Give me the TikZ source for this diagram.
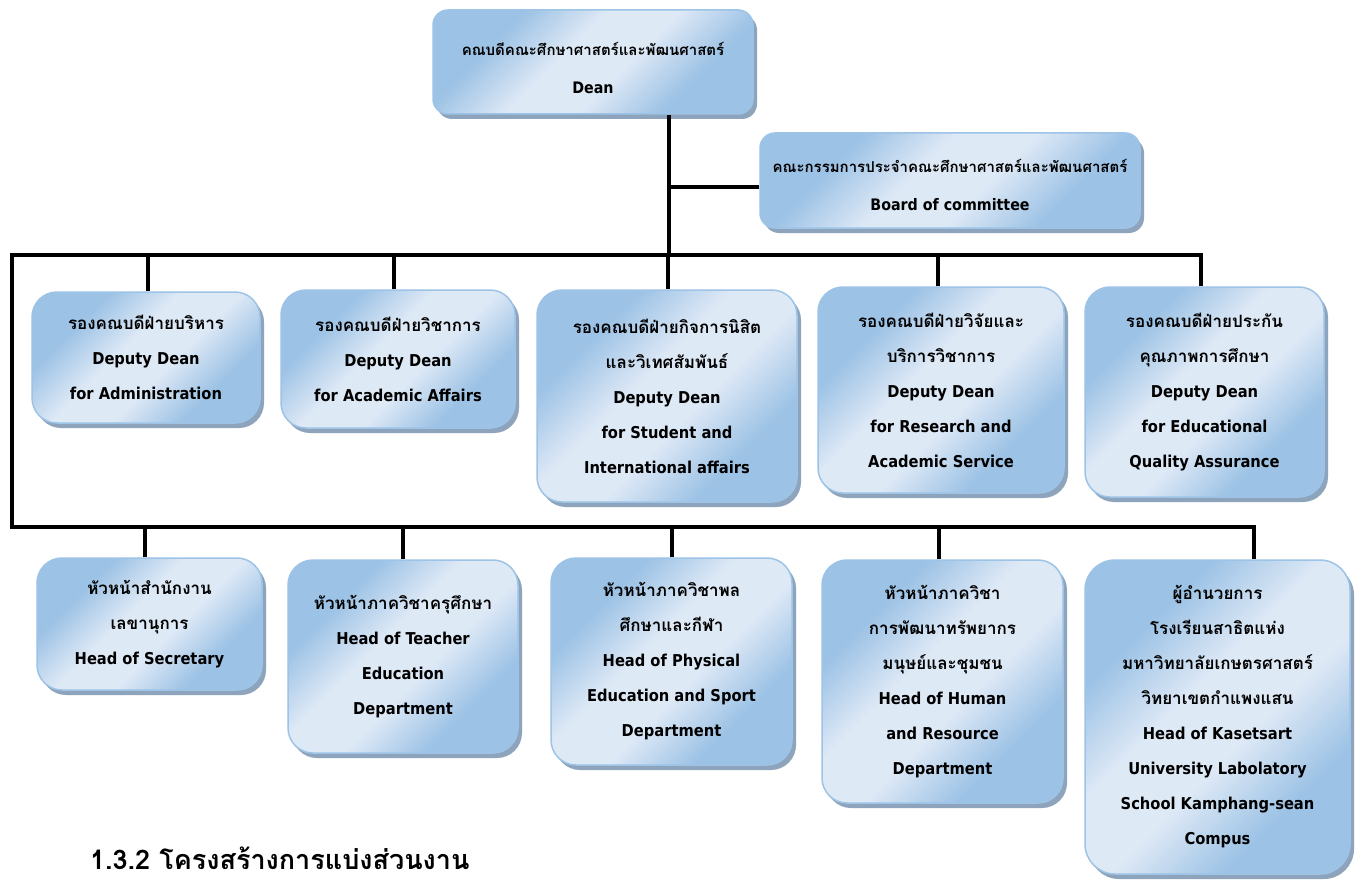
\documentclass[tikz,border=0pt]{standalone}
\usepackage{fontspec}
\setmainfont{Loma}[Script=Thai]
\newfontfamily\enf{DejaVu Sans Condensed}[Scale=0.96]
\newcommand\enbig{\enf\fontsize{16.5}{38}\selectfont}
\usetikzlibrary{shadows}
\definecolor{lightb}{HTML}{DEE9F6}
\definecolor{midb}{HTML}{9CC2E5}
\definecolor{edgeb}{HTML}{9DC3E6}
\definecolor{shadc}{HTML}{8EA4BC}
\pgfdeclarehorizontalshading{orgshade}{100bp}{color(0bp)=(midb); color(30bp)=(midb); color(44bp)=(lightb); color(56bp)=(lightb); color(70bp)=(midb); color(100bp)=(midb)}
\tikzset{
  orgbox/.style={shade, shading=orgshade, shading angle=-45, draw=edgeb, line width=1.5pt,
    rounded corners=25pt, inner sep=0pt, align=center,
    font=\bfseries\fontsize{17}{35}\selectfont,
    drop shadow={shadow xshift=4pt, shadow yshift=-5pt, fill=shadc, opacity=1}},
  topbox/.style={rounded corners=15pt, font=\bfseries\fontsize{15}{38}\selectfont},
  conn/.style={line width=4pt, draw=black, line join=miter},
}
\newcommand\orgnode[7][]{%
  \node[orgbox, #1, minimum width={(#5-#3)*1pt}, minimum height={(#6-#4)*1pt}]
    (#2) at ({(#3+#5)/2},{(#4+#6)/2}) {#7};}
\begin{document}
\begin{tikzpicture}[x=1pt, y=-1pt]
\useasboundingbox[fill=white] (0,0) rectangle (1357,880);
% top level
\orgnode[topbox]{dean}{433}{10}{753}{114}{\rule{0pt}{26pt}คณบดีคณะศึกษาศาสตร์และพัฒนศาสตร์\\\enbig Dean}
\orgnode[topbox]{board}{760}{133}{1140}{228}{\rule{0pt}{22pt}คณะกรรมการประจำคณะศึกษาศาสตร์และพัฒนศาสตร์\\\enbig Board of committee}
% row 1
\orgnode{b1}{32}{292}{260}{423}{รองคณบดีฝ่ายบริหาร\\\enf Deputy Dean\\\enf for Administration}
\orgnode{b2}{281}{290}{515}{428}{รองคณบดีฝ่ายวิชาการ\\\enf Deputy Dean\\\enf for Academic Affairs}
\orgnode{b3}{537}{290}{797}{502}{รองคณบดีฝ่ายกิจการนิสิต\\และวิเทศสัมพันธ์\\\enf Deputy Dean\\\enf for Student and\\\enf International affairs}
\orgnode{b4}{818}{287}{1064}{493}{รองคณบดีฝ่ายวิจัยและ\\บริการวิชาการ\\\enf Deputy Dean\\\enf for Research and\\\enf Academic Service}
\orgnode{b5}{1085}{287}{1324}{497}{รองคณบดีฝ่ายประกัน\\คุณภาพการศึกษา\\\enf Deputy Dean\\\enf for Educational\\\enf Quality Assurance}
% row 2
\orgnode{c1}{37}{558}{262}{690}{หัวหน้าสำนักงาน\\เลขานุการ\\\enf Head of Secretary}
\orgnode{c2}{288}{560}{518}{753}{หัวหน้าภาควิชาครุศึกษา\\\enf Head of Teacher\\\enf Education\\\enf Department}
\orgnode{c3}{551}{558}{792}{765}{หัวหน้าภาควิชาพล\\ศึกษาและกีฬา\\\enf Head of Physical\\\enf Education and Sport\\\enf Department}
\orgnode{c4}{822}{560}{1063}{803}{หัวหน้าภาควิชา\\การพัฒนาทรัพยากร\\มนุษย์และชุมชน\\\enf Head of Human\\\enf and Resource\\\enf Department}
\orgnode[rounded corners=30pt]{c5}{1085}{560}{1350}{874}{ผู้อำนวยการ\\โรงเรียนสาธิตแห่ง\\มหาวิทยาลัยเกษตรศาสตร์\\วิทยาเขตกำแพงแสน\\\enf Head of Kasetsart\\\enf University Labolatory\\\enf School Kamphang-sean\\\enf Compus}
% title
\node[anchor=west, font=\bfseries\fontsize{27}{30}\selectfont, inner sep=0pt] (title) at (90,858) {1.3.2 โครงสร้างการแบ่งส่วนงาน};
% connectors
\coordinate (tl) at (12,255);
\coordinate (bl) at (12,527);
\coordinate (dv) at ([xshift=76pt]dean.south);
\draw[conn] (dv) -- (dv |- tl);
\draw[conn] ([yshift=-6pt]board.west) -- ([yshift=-6pt]board.west -| dv);
\draw[conn] ([xshift=-4pt]b5.north) |- (tl) -- (bl) -| ([xshift=36pt]c5.north);
\foreach \n/\s in {b1/2,b2/-4,b3/1,b4/-3} {
  \draw[conn] ([xshift=\s pt]\n.north) -- ([xshift=\s pt]\n.north |- tl);
}
\foreach \n/\s in {c1/-5,c2/0,c3/0,c4/-4} {
  \draw[conn] ([xshift=\s pt]\n.north) -- ([xshift=\s pt]\n.north |- bl);
}
\end{tikzpicture}
\end{document}
